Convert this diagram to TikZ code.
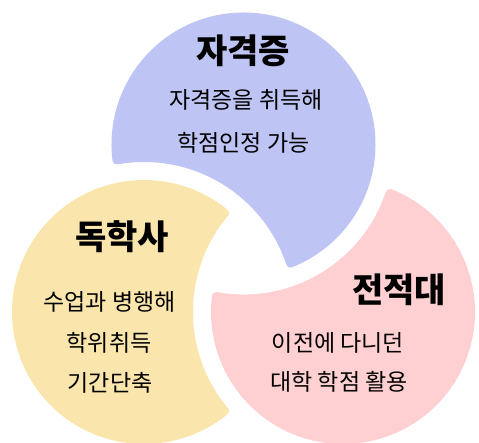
\documentclass[tikz,border=0pt]{standalone}
\usepackage{fontspec}
\usetikzlibrary{calc}
\newfontfamily\kr{Noto Sans CJK KR}
\definecolor{purp}{RGB}{190,196,243}
\definecolor{yel}{RGB}{250,230,172}
\definecolor{pnk}{RGB}{255,208,210}
\begin{document}
\begin{tikzpicture}[x=1pt,y=1pt,
  title/.style={font=\kr\bfseries\fontsize{34}{34}\selectfont, anchor=base, inner sep=0pt},
  body/.style={font=\kr\fontsize{23}{23}\selectfont, anchor=base, inner sep=0pt},
  blob/.style={fill=#1, draw=#1, line width=8pt, line join=round}]
\useasboundingbox (0,0) rectangle (479,442);
% centres
\coordinate (P) at (243.5,297.5);
\coordinate (Y) at (144,130);
\coordinate (K) at (343,130);
% purple
\path[blob=purp] ($(P)+(187.16:128)$) arc[start angle=187.16, end angle=-68.59, radius=128pt]
  arc[start angle=18.29, end angle=100.29, radius=154pt] -- cycle;
% yellow
\path[blob=yel] ($(Y)+(50.70:128)$) arc[start angle=50.70, end angle=309.30, radius=128pt]
  arc[start angle=220.03, end angle=139.97, radius=154pt] -- cycle;
% pink
\path[blob=pnk] ($(K)+(68.59:128)$) arc[start angle=68.59, end angle=-187.16, radius=128pt]
  arc[start angle=-100.29, end angle=-18.29, radius=154pt] -- cycle;
% texts
\node[title] (t1) at (243,378.4) {자격증};
\node[body] (b1a) at (246,333.5) {자격증을 취득해};
\node[body] (b1b) at (243.5,290.5) {학점인정 가능};
\node[title] (t2) at (122,192.4) {독학사};
\node[body] (b2a) at (109.5,131.5) {수업과 병행해};
\node[body] (b2b) at (109,90.5) {학위취득};
\node[body] (b2c) at (110,50.5) {기간단축};
\node[title] (t3) at (399,139.4) {전적대};
\node[body] (b3a) at (338,90.5) {이전에 다니던};
\node[body] (b3b) at (339,51.5) {대학 학점 활용};
\end{tikzpicture}
\end{document}
